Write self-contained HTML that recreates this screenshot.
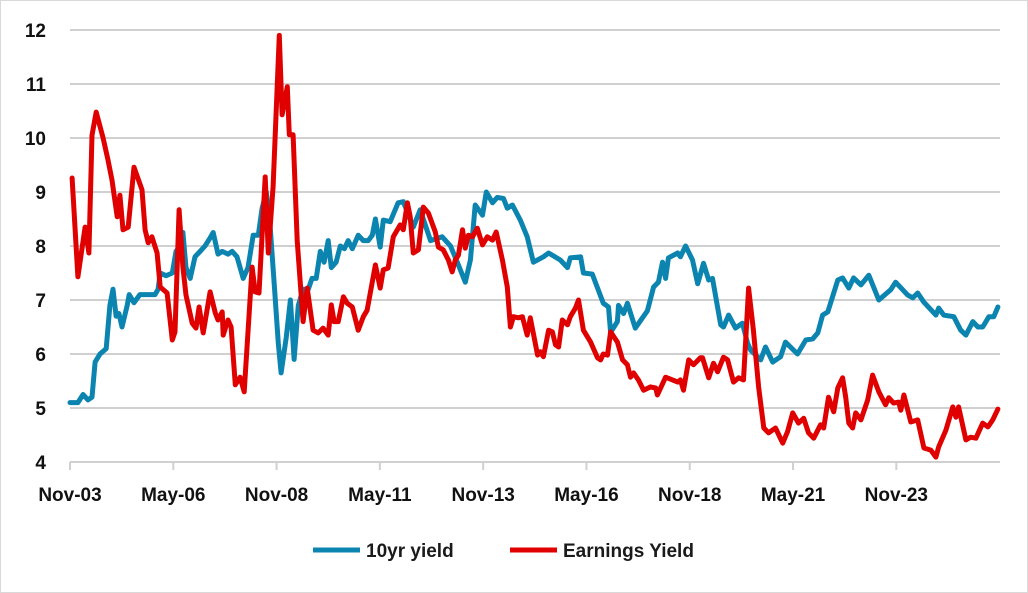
<!DOCTYPE html>
<html><head><meta charset="utf-8"><style>
body{margin:0;background:#fff}
svg{display:block;font-family:"Liberation Sans",Arial,sans-serif}
</style></head><body>
<svg id="chart" width="1028" height="593" viewBox="0 0 1028 593">
<rect x="0.5" y="0.5" width="1027" height="592" fill="#fff" stroke="#d9d9d9"/>
<g id="grid"></g>
<g id="yaxis"></g>
<g id="xaxis"></g>
<g id="series"></g>
<g>
<g><line x1="313" y1="550" x2="360" y2="550" stroke="#0b84b0" stroke-width="5"/><text x="366" y="557" font-size="19" font-weight="bold" fill="#1a1a1a">10yr yield</text></g>
<g><line x1="510" y1="550" x2="557" y2="550" stroke="#e00000" stroke-width="5"/><text x="563" y="557" font-size="19" font-weight="bold" fill="#1a1a1a">Earnings Yield</text></g>
</g>
</svg>
<script>
const yTicks=[4,5,6,7,8,9,10,11,12];
const xTickMonths=[0,30,60,90,120,150,180,210,240];
const xTickLabels=["Nov-03","May-06","Nov-08","May-11","Nov-13","May-16","Nov-18","May-21","Nov-23"];
const tenMonths=[0,2.3,3.8,5.2,6.4,7.3,8.7,10.5,11.6,12.5,13.4,14.2,15.1,16.6,17.2,18.6,20.3,24.7,25.6,26.2,27.9,29.7,30.8,32,32.8,33.7,34.9,36.3,37.8,39.2,40.7,41.6,43,44.2,45.9,47.1,48.5,50.3,51.7,53.2,54.7,55.8,57,58.1,59.3,60.5,61.3,62.8,64,65.1,66.3,67.7,69.2,70.3,71.5,72.7,73.8,75,75.9,77.3,78.5,79.7,80.8,82,83.7,85.2,86.6,87.8,88.7,90.1,91,93,95.3,96.8,99.7,101.7,104.7,108.1,110.5,112.5,114.8,116.3,117.7,119.8,120.9,122.7,124.1,125.9,127,128.5,130.8,132.8,134.6,137.5,139,142.4,144.5,145.3,148.3,149.1,151.7,154.9,156.4,157,159,159.3,160.8,161.9,164.2,167.7,169.5,170.9,172.1,173,173.8,176.5,177.3,178.8,180.8,182.3,184,185.5,186.6,189,189.8,191.3,193.3,195.3,196.8,197.7,200.6,202,204.1,206.4,207.8,211.3,213.7,215.7,217.2,218.6,220.1,223,224.4,226.2,227.6,229.7,232,234.9,238.4,239.8,243.3,244.8,246.2,248,251.5,252.3,253.8,256.7,258.7,260.2,262.2,263.7,265.1,266.9,268.3,269.5];
const tenValues=[5.1,5.1,5.25,5.15,5.2,5.85,6.0,6.1,6.9,7.2,6.7,6.75,6.5,6.9,7.1,6.95,7.1,7.1,7.2,7.5,7.45,7.5,7.9,8.0,8.25,7.6,7.4,7.8,7.9,8.0,8.15,8.25,7.85,7.9,7.85,7.9,7.8,7.4,7.6,8.2,8.2,8.7,9.0,8.4,7.3,6.2,5.65,6.3,7.0,5.9,6.9,7.2,7.2,7.4,7.4,7.9,7.7,8.1,7.6,7.7,8.0,7.95,8.1,7.95,8.2,8.1,8.1,8.2,8.5,7.98,8.48,8.45,8.8,8.82,8.35,8.67,8.1,8.17,8.0,7.7,7.33,7.74,8.76,8.57,9.0,8.8,8.9,8.88,8.7,8.76,8.48,8.17,7.7,7.8,7.87,7.74,7.6,7.78,7.8,7.5,7.48,6.94,6.87,6.4,6.6,6.9,6.75,6.94,6.48,6.8,7.24,7.33,7.7,7.4,7.78,7.87,7.8,8.0,7.74,7.3,7.68,7.37,7.4,6.54,6.5,6.72,6.48,6.57,6.2,6.07,5.89,6.13,5.85,5.95,6.22,6.0,6.26,6.28,6.39,6.72,6.78,7.37,7.41,7.22,7.41,7.28,7.46,7.0,7.19,7.33,7.09,7.04,7.13,6.96,6.72,6.85,6.72,6.69,6.44,6.35,6.6,6.5,6.5,6.69,6.69,6.87];
const eyMonths=[0.6,2.3,4.4,5.5,6.4,7.6,9.6,11,12.2,13.7,14.5,15.4,16.9,18.6,20.9,21.8,22.7,23.8,25.3,26.2,28.2,29.7,30.5,31.7,32.8,33.7,35.5,36.6,37.5,38.7,40.7,42.2,43,44.2,44.5,45.9,46.8,48,49.4,50.6,52.9,53.8,54.9,56.7,57.6,59,60.8,61.6,63.1,63.7,64.8,66,67.7,68.9,70.6,72.1,73.5,75,75.9,76.7,77.9,79.4,80.5,82,83.7,85.2,86.3,88.7,90.1,91,92.4,93.9,95.9,96.8,98,98.8,99.7,101.2,102.6,104.1,106.1,107,108.4,109.9,111,111.9,112.8,114,114.8,115.7,116.9,118.3,119.8,121.2,122.7,123.8,125.6,127,127.9,128.8,130.2,131.4,132.8,133.7,135.8,136.6,137.5,139,140.1,141,141.9,143,144.5,145.3,146.8,147.7,149.1,151.2,153.2,154.1,154.9,156.1,157,159,160.5,161.9,162.8,163.7,165.1,166.6,168.6,170.1,170.6,173,175,176.5,177.3,178.2,179.7,181.1,183.1,183.7,185.5,186.9,188.1,189.8,191,192.7,194.2,195.6,197.1,198.5,200,201.5,202.9,204.9,207,208.4,209.9,211.6,213.1,214.5,216,218,218.9,220.3,221.8,223,224.4,225.3,226.2,227.3,228.2,229.7,231.7,233.1,234.9,236.9,237.8,239.2,240.7,241.3,242.2,244.2,246.2,248,250,251.5,252.3,254.4,256.4,257.3,258.1,260.2,261.6,263.1,265.1,266.6,268,269.5];
const eyValues=[9.26,7.43,8.35,7.87,10.05,10.48,10.0,9.6,9.22,8.54,8.94,8.3,8.35,9.46,9.04,8.3,8.06,8.17,7.87,7.24,7.13,6.26,6.41,8.67,7.61,7.09,6.57,6.48,6.87,6.39,7.15,6.76,6.63,6.78,6.35,6.63,6.5,5.43,5.57,5.3,7.61,7.15,7.13,9.28,7.87,9.1,11.9,10.43,10.95,10.06,10.06,8.1,6.6,7.22,6.44,6.39,6.48,6.35,6.91,6.6,6.6,7.06,6.94,6.87,6.44,6.69,6.81,7.65,7.22,7.56,7.59,8.17,8.39,8.3,8.8,8.54,7.87,7.93,8.72,8.61,8.26,7.98,7.93,7.74,7.52,7.74,7.83,8.3,7.96,8.2,8.17,8.33,8.02,8.17,8.11,8.26,7.74,7.24,6.5,6.69,6.67,6.69,6.35,6.67,5.98,6.04,5.95,6.44,6.41,6.17,6.13,6.63,6.54,6.69,6.85,7.0,6.44,6.22,5.93,5.89,6.0,5.98,6.41,6.22,5.89,5.8,5.57,5.65,5.52,5.33,5.39,5.37,5.24,5.57,5.52,5.48,5.52,5.33,5.89,5.8,5.93,5.93,5.56,5.83,5.67,5.94,5.89,5.48,5.56,5.52,7.22,6.44,5.39,4.63,4.54,4.63,4.35,4.56,4.91,4.72,4.81,4.54,4.44,4.69,4.63,5.2,4.93,5.37,5.56,5.2,4.72,4.63,4.91,4.78,5.15,5.61,5.3,5.06,5.19,5.09,5.11,4.96,5.24,4.74,4.78,4.26,4.22,4.09,4.28,4.59,5.02,4.83,5.02,4.41,4.46,4.44,4.72,4.65,4.78,4.98];

const NS="http://www.w3.org/2000/svg";
const X0=70,PXM=3.443,Y0=462,PXV=54,XEND=1000;
function xs(m){return X0+m*PXM;}
function ys(v){return Y0-(v-4)*PXV;}
function mk(tag,attrs,parent){const e=document.createElementNS(NS,tag);for(const k in attrs)e.setAttribute(k,attrs[k]);parent.appendChild(e);return e;}
const grid=document.getElementById('grid'),yax=document.getElementById('yaxis'),xax=document.getElementById('xaxis'),ser=document.getElementById('series');
yTicks.forEach(v=>{
  if(v>4){const l=mk('line',{x1:X0,x2:XEND,y1:ys(v),y2:ys(v),stroke:'#d0d0d0','stroke-width':2},grid);
  
  }
  const t=mk('text',{x:46,y:ys(v)+7,'text-anchor':'end','font-size':19,'font-weight':'bold',fill:'#111'},yax);
  t.textContent=v;
  
  
});
const ax=mk('line',{x1:X0,x2:XEND,y1:Y0,y2:Y0,stroke:'#d0d0d0','stroke-width':2},xax);


xTickMonths.forEach((m,i)=>{
  const tk=mk('line',{x1:xs(m),x2:xs(m),y1:Y0,y2:Y0+8,stroke:'#d0d0d0','stroke-width':2},xax);
  
  
  const t=mk('text',{x:xs(m),y:501,'text-anchor':'middle','font-size':19,'font-weight':'bold',fill:'#111'},xax);
  t.textContent=xTickLabels[i];
  
  
});
function line(ms,vs,color,name){
  const d=ms.map((m,i)=>(i?'L':'M')+xs(m).toFixed(1)+' '+ys(vs[i]).toFixed(1)).join(' ');
  const p=mk('path',{d:d,fill:'none',stroke:color,'stroke-width':5,'stroke-linejoin':'round','stroke-linecap':'round'},ser);
  
  
}
line(tenMonths,tenValues,'#0b84b0','line-10yr-yield');
line(eyMonths,eyValues,'#e00000','line-earnings-yield');
</script>
</body></html>
